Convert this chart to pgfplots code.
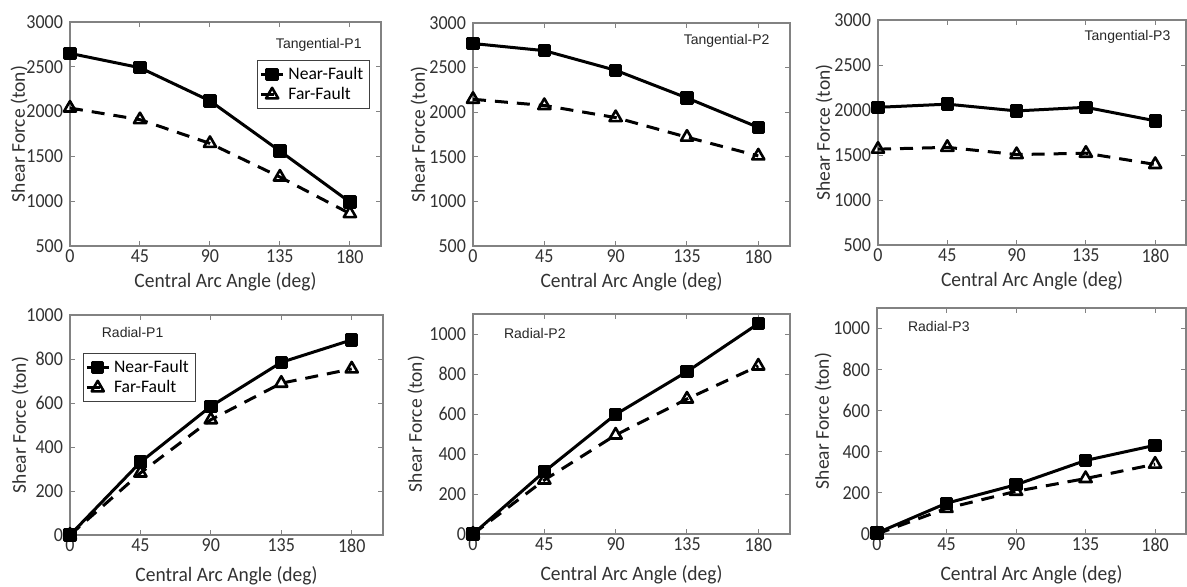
\documentclass[border=0pt]{standalone}
\usepackage{pgfplots}
\pgfplotsset{compat=1.18}
\usepackage{fontspec}
\setmainfont{Carlito}
\newfontfamily\arialf{Liberation Sans}
\definecolor{axgray}{RGB}{130,130,130}
\definecolor{txt}{RGB}{50,50,50}
\pgfplotsset{
  panel/.style={
    scale only axis, xmin=0, xmax=200, xtick={0,45,90,135,180},
    axis line style={draw=axgray, line width=0.6pt},
    every tick/.style={draw=axgray, line width=0.5pt},
    tick align=inside, major tick length=2.5pt,
    ticklabel style={text=txt, font=\fontsize{9}{10}\selectfont, yscale=1.1},
    xticklabel style={inner sep=1.5pt},
    /pgf/number format/assume math mode=true,
    /pgf/number format/1000 sep={},
    scaled y ticks=false,
    xlabel={Central Arc Angle (deg)}, ylabel={Shear Force (ton)},
    label style={text=txt, font=\fontsize{9.75}{11}\selectfont},
    xlabel style={at={([yshift=-18pt]axis description cs:0.5,0)}, anchor=center, yscale=1.05},
    ylabel style={at={([xshift=-27pt]axis description cs:0,0.5)}, anchor=center},
    clip=false,
    legend style={draw=black!75, line width=0.5pt, font=\fontsize{8.8}{9.5}\selectfont, text=black,
      inner sep=1.2pt, row sep=-1.5pt, cells={anchor=west}},
    legend image code/.code={\draw[mark repeat=2,mark phase=2] plot coordinates {(0cm,0cm) (0.19cm,0cm) (0.38cm,0cm)};},
  },
  toprow/.style={ymin=500, ymax=3000, ytick={500,1000,...,3000}},
  botrow/.style={ymin=0, ytick={0,200,...,1000}, xlabel style={at={([yshift=-20.5pt]axis description cs:0.5,0)}}},
  near/.style={black, line width=1.5pt, mark=square*, mark size=2.6pt, mark options={solid, line join=round}},
  far/.style={black, line width=1.5pt, dash pattern=on 6.5pt off 4.5pt, mark=triangle, mark size=3.5pt, mark options={solid, fill=white, line width=1.3pt, line join=round}},
}
\newcommand{\ptitle}[3]{\node[font=\arialf\fontsize{7}{8}\selectfont, text=black!85] at (rel axis cs:#1,#2) {#3};}
\begin{document}
\begin{tikzpicture}
\path[use as bounding box] (0,0) rectangle (593.5pt,-293pt);
% Panel 1
\begin{axis}[panel, toprow, at={(35pt,-123pt)}, anchor=south west, width=155.5pt, height=112pt,
  ylabel style={at={([xshift=-25.5pt]axis description cs:0,0.5)}},
  legend style={at={(axis description cs:0.965,0.83)}, anchor=north east}]
\addplot[near] coordinates {(0,2650)(45,2490)(90,2120)(135,1560)(180,990)};
\addlegendentry{Near-Fault}
\addplot[far] coordinates {(0,2040)(45,1910)(90,1645)(135,1270)(180,862)};
\addlegendentry{Far-Fault}
\ptitle{0.80}{0.90}{Tangential-P1}
\end{axis}
% Panel 2
\begin{axis}[panel, toprow, at={(236.5pt,-123pt)}, anchor=south west, width=158.5pt, height=111.5pt]
\addplot[near] coordinates {(0,2770)(45,2690)(90,2470)(135,2160)(180,1830)};
\addplot[far] coordinates {(0,2145)(45,2075)(90,1940)(135,1720)(180,1510)};
\ptitle{0.80}{0.92}{Tangential-P2}
\end{axis}
% Panel 3
\begin{axis}[panel, toprow, at={(439pt,-122.5pt)}, anchor=south west, width=154pt, height=112.5pt]
\addplot[near] coordinates {(0,2030)(45,2065)(90,1990)(135,2030)(180,1880)};
\addplot[far] coordinates {(0,1565)(45,1585)(90,1505)(135,1520)(180,1395)};
\ptitle{0.81}{0.925}{Tangential-P3}
\end{axis}
% Panel 4
\begin{axis}[panel, botrow, ymax=1000, at={(35pt,-267.5pt)}, anchor=south west, width=156.5pt, height=110pt,
  ylabel style={at={([xshift=-25pt]axis description cs:0,0.5)}},
  legend style={at={(axis description cs:0.04,0.827)}, anchor=north west}]
\addplot[near] coordinates {(0,0)(45,331)(90,585)(135,785)(180,887)};
\addlegendentry{Near-Fault}
\addplot[far] coordinates {(0,0)(45,282)(90,524)(135,690)(180,755)};
\addlegendentry{Far-Fault}
\ptitle{0.20}{0.92}{Radial-P1}
\end{axis}
% Panel 5
\begin{axis}[panel, botrow, ymax=1100, at={(236.5pt,-267pt)}, anchor=south west, width=158.5pt, height=110pt,
  ylabel style={at={([xshift=-28.5pt]axis description cs:0,0.5)}}]
\addplot[near] coordinates {(0,0)(45,312)(90,598)(135,812)(180,1052)};
\addplot[far] coordinates {(0,0)(45,270)(90,495)(135,675)(180,840)};
\ptitle{0.195}{0.91}{Radial-P2}
\end{axis}
% Panel 6
\begin{axis}[panel, botrow, ymax=1100, at={(438.5pt,-267pt)}, anchor=south west, width=154.5pt, height=113pt]
\addplot[near] coordinates {(0,5)(45,150)(90,240)(135,358)(180,432)};
\addplot[far] coordinates {(0,0)(45,125)(90,208)(135,270)(180,340)};
\ptitle{0.20}{0.92}{Radial-P3}
\end{axis}
\end{tikzpicture}
\end{document}
